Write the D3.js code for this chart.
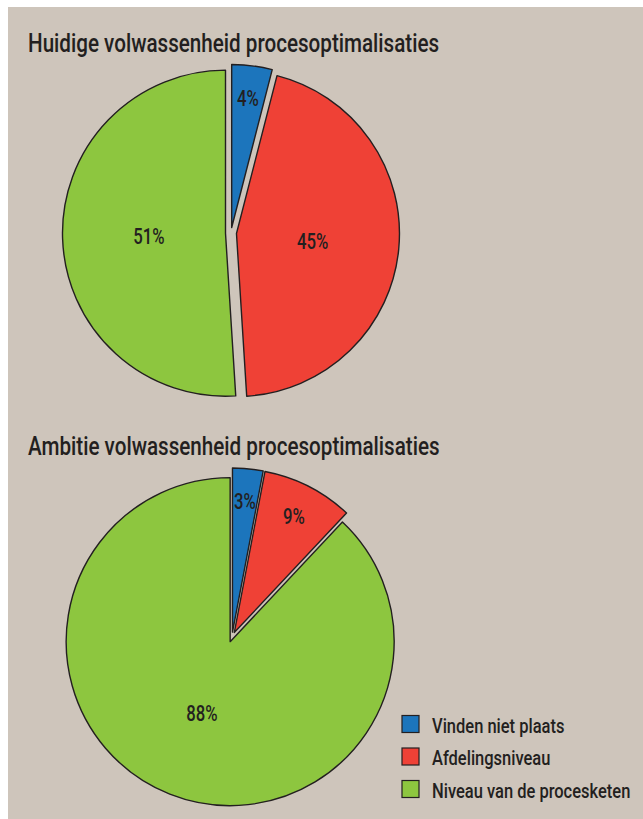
<!DOCTYPE html>
<html>
<head>
<meta charset="utf-8">
<script src="https://cdn.jsdelivr.net/npm/d3@7"></script>
<style>
  body { margin: 0; background: #fff; }
  svg { display: block; }
  text { font-family: "Roboto", "Liberation Sans", sans-serif; fill: #231f20; }
</style>
</head>
<body>
<div id="vis"></div>
<script>
// data
var categories = ["Vinden niet plaats", "Afdelingsniveau", "Niveau van de procesketen"];
var colors = ["#1c75bc", "#ef4136", "#8dc63f"];
var currentValues = [4, 45, 51];
var ambitionValues = [3, 9, 88];
var titles = ["Huidige volwassenheid procesoptimalisaties", "Ambitie volwassenheid procesoptimalisaties"];

var width = 643, height = 819;

var svg = d3.select("#vis").append("svg")
    .attr("width", width)
    .attr("height", height);

// beige panel
svg.append("rect")
    .attr("x", 8).attr("y", 7)
    .attr("width", width - 8).attr("height", height - 7)
    .attr("fill", "#cec5bb");

// squeeze a text horizontally so it looks like a condensed face
function condense(sel, factor) {
  sel.each(function() {
    var len = this.getComputedTextLength();
    d3.select(this)
      .attr("textLength", len * factor)
      .attr("lengthAdjust", "spacingAndGlyphs");
  });
}

var pies = [
  {values: currentValues, title: titles[0], titleY: 52, cx: 231, cy: 233, r: 163, explode: 5.5},
  {values: ambitionValues, title: titles[1], titleY: 455, cx: 232, cy: 637, r: 164, explode: 5}
];

var pie = d3.pie().sort(null).value(function(d) { return d; });

pies.forEach(function(p) {
  svg.append("text")
      .attr("x", 28)
      .attr("y", p.titleY)
      .style("font-size", "25px")
      .style("font-weight", 500)
      .text(p.title)
      .call(condense, 0.825);

  var arc = d3.arc().innerRadius(0).outerRadius(p.r);
  var total = d3.sum(p.values);
  var g = svg.append("g").attr("transform", "translate(" + p.cx + "," + p.cy + ")");

  var slices = g.selectAll("g.slice")
      .data(pie(p.values))
      .enter().append("g")
      .attr("class", "slice")
      .attr("transform", function(d) {
        var mid = (d.startAngle + d.endAngle) / 2;
        return "translate(" + (Math.sin(mid) * p.explode) + "," + (-Math.cos(mid) * p.explode) + ")";
      });

  slices.append("path")
      .attr("d", arc)
      .attr("fill", function(d, i) { return colors[i]; })
      .attr("stroke", "#231f20")
      .attr("stroke-width", 1.4)
      .attr("stroke-linejoin", "round");

  slices.append("text")
      .attr("x", function(d) {
        var mid = (d.startAngle + d.endAngle) / 2;
        var k = d.value / total < 0.1 ? 0.8 : 0.47;
        return Math.sin(mid) * p.r * k;
      })
      .attr("y", function(d) {
        var mid = (d.startAngle + d.endAngle) / 2;
        var k = d.value / total < 0.1 ? 0.8 : 0.47;
        return -Math.cos(mid) * p.r * k;
      })
      .attr("dy", "0.36em")
      .attr("text-anchor", "middle")
      .style("font-size", "22px")
      .style("font-weight", 500)
      .text(function(d) { return d.value + "%"; })
      .call(condense, 0.76);
});

// legend
var legendY = d3.scalePoint().domain(categories).range([724, 789]);

var legend = svg.append("g").selectAll("g")
    .data(categories)
    .enter().append("g")
    .attr("transform", function(d) { return "translate(402," + legendY(d) + ")"; });

legend.append("rect")
    .attr("x", 0).attr("y", -8.5)
    .attr("width", 17).attr("height", 17)
    .attr("fill", function(d, i) { return colors[i]; })
    .attr("stroke", "#231f20")
    .attr("stroke-width", 1.2);

legend.append("text")
    .attr("x", 30)
    .attr("y", 8.5)
    .style("font-size", "21px")
    .style("font-weight", 500)
    .text(function(d) { return d; })
    .call(condense, 0.785);
</script>
</body>
</html>
